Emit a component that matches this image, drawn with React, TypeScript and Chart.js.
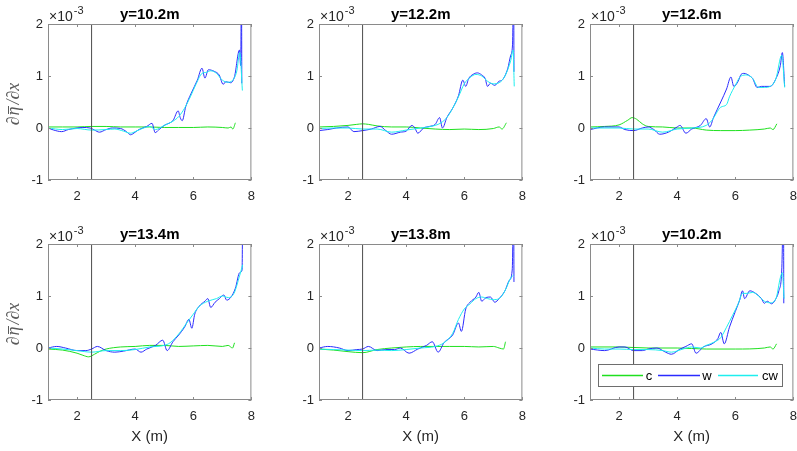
import { useEffect, useRef } from "react";
import { Chart, registerables } from "chart.js";

Chart.register(...registerables);

type Pt = [number, number];

// ---------- data (values in units of 1e-3) ----------
const titles = ["y=10.2m", "y=12.2m", "y=12.6m", "y=13.4m", "y=13.8m", "y=10.2m"];
const xTicks = [2, 4, 6, 8];
const yTicks = [-1, 0, 1, 2];
const xRange = [1, 8];
const yRange = [-1, 2];
const vLineX = 2.5;
const seriesNames = ["c", "w", "cw"];
const xLabel = "X (m)";
// y label pieces: "∂" + "η" (with overbar) + "/∂x"
const yLabelParts = ["\u2202", "\u03B7", "/\u2202x"];
const exponentBase = "\u00D710";
const exponentPower = "-3";

const p1C: Pt[] = [[1, 0.02], [1.5, 0.02], [2, 0.02], [2.5, 0.03], [3, 0.03], [3.5, 0.02], [4, 0.02], [4.5, 0.02], [5, 0.01], [5.5, 0.01], [6, 0.01], [6.5, 0.02], [7, 0.01], [7.2, 0.0], [7.3, 0.02], [7.36, -0.02], [7.45, 0.1]];
const p1W: Pt[] = [[1, 0.0], [1.2, -0.04], [1.47, -0.07], [1.7, -0.03], [2.0, 0.0], [2.2, 0.01], [2.45, 0.0], [2.6, -0.04], [2.77, -0.08], [3.0, -0.03], [3.22, 0.0], [3.5, -0.01], [3.7, -0.07], [3.84, -0.13], [4.0, -0.08], [4.13, -0.03], [4.4, 0.03], [4.58, 0.09], [4.69, -0.09], [4.8, -0.04], [5.03, 0.06], [5.2, 0.1], [5.31, 0.15], [5.48, 0.33], [5.55, 0.2], [5.62, 0.14], [5.74, 0.41], [5.93, 0.67], [6.14, 0.92], [6.3, 1.15], [6.4, 0.96], [6.52, 1.12], [6.72, 1.09], [6.89, 1.02], [7.03, 0.84], [7.12, 0.89], [7.29, 0.87], [7.42, 0.99], [7.59, 1.5], [7.63, 1.2], [7.66, 2.8], [7.67, 0.86]];
const p1CW: Pt[] = [[1, 0.0], [1.5, -0.03], [2, -0.01], [2.5, -0.04], [3, -0.03], [3.3, -0.02], [3.6, -0.06], [3.84, -0.1], [4.0, -0.07], [4.2, -0.02], [4.5, 0.03], [4.7, -0.03], [5.0, 0.05], [5.3, 0.13], [5.5, 0.22], [5.7, 0.38], [5.9, 0.6], [6.1, 0.85], [6.3, 1.05], [6.45, 1.07], [6.6, 1.1], [6.8, 1.05], [7.0, 0.92], [7.2, 0.88], [7.4, 0.95], [7.5, 1.1], [7.6, 1.45], [7.69, 0.72]];

const p2C: Pt[] = [[1, 0.02], [1.5, 0.03], [2, 0.05], [2.3, 0.07], [2.5, 0.08], [2.7, 0.07], [3, 0.04], [3.5, 0.02], [4, 0.02], [4.5, 0.0], [5, -0.02], [5.5, -0.03], [6, -0.02], [6.5, -0.03], [7, -0.01], [7.2, 0.02], [7.3, -0.02], [7.45, 0.1]];
const p2W: Pt[] = [[1, -0.05], [1.3, -0.03], [1.6, 0.0], [2.0, 0.02], [2.2, -0.07], [2.5, -0.05], [2.8, -0.02], [3.1, 0.03], [3.3, -0.05], [3.5, -0.12], [3.8, -0.08], [4.0, -0.06], [4.2, 0.05], [4.3, 0.0], [4.4, -0.1], [4.6, 0.0], [4.8, 0.03], [5.0, 0.07], [5.15, 0.2], [5.25, 0.0], [5.4, 0.2], [5.6, 0.38], [5.8, 0.62], [5.95, 0.92], [6.05, 0.8], [6.15, 0.95], [6.3, 1.03], [6.45, 1.06], [6.6, 1.02], [6.72, 0.95], [6.8, 0.8], [6.9, 0.86], [7.05, 0.82], [7.2, 0.9], [7.3, 0.92], [7.5, 1.15], [7.6, 1.4], [7.66, 1.6], [7.7, 2.8], [7.71, 1.08]];
const p2CW: Pt[] = [[1, -0.01], [1.5, 0.0], [2, 0.0], [2.5, -0.02], [3, -0.02], [3.5, -0.08], [4, -0.04], [4.5, 0.0], [5, 0.05], [5.2, 0.1], [5.4, 0.2], [5.6, 0.38], [5.8, 0.6], [6.0, 0.85], [6.2, 0.97], [6.4, 1.03], [6.6, 1.0], [6.8, 0.9], [7.0, 0.85], [7.2, 0.87], [7.4, 1.0], [7.6, 1.3], [7.68, 1.5], [7.72, 0.8]];

const p3C: Pt[] = [[1, 0.02], [1.5, 0.03], [2, 0.06], [2.3, 0.15], [2.45, 0.2], [2.6, 0.17], [2.8, 0.08], [3, 0.03], [3.5, 0.02], [4, 0.0], [4.5, 0.0], [5, -0.04], [5.5, -0.05], [6, -0.05], [6.5, -0.04], [7, -0.02], [7.2, 0.0], [7.3, -0.03], [7.43, 0.08]];
const p3W: Pt[] = [[1, -0.03], [1.5, 0.02], [2, 0.02], [2.2, -0.03], [2.5, -0.05], [2.8, 0.0], [3, 0.02], [3.2, -0.03], [3.4, -0.12], [3.7, -0.08], [4, 0.02], [4.1, 0.05], [4.3, -0.1], [4.5, -0.02], [4.8, 0.05], [5.0, 0.18], [5.12, 0.02], [5.25, 0.2], [5.5, 0.5], [5.7, 0.75], [5.85, 0.98], [5.95, 0.8], [6.1, 0.9], [6.2, 1.03], [6.3, 1.05], [6.5, 1.0], [6.6, 0.95], [6.75, 0.78], [6.9, 0.8], [7.0, 0.8], [7.2, 0.8], [7.4, 0.95], [7.55, 1.2], [7.62, 1.45], [7.7, 0.8]];
const p3CW: Pt[] = [[1, 0.0], [2, 0.0], [2.5, -0.02], [3, -0.02], [3.5, -0.08], [4, -0.02], [4.5, 0.0], [5, 0.05], [5.2, 0.15], [5.5, 0.4], [5.7, 0.45], [5.8, 0.6], [6.0, 0.82], [6.2, 1.0], [6.4, 1.02], [6.6, 0.95], [6.8, 0.78], [7.0, 0.78], [7.2, 0.8], [7.4, 0.95], [7.6, 1.4], [7.7, 0.78]];

const p4C: Pt[] = [[1, -0.02], [1.5, -0.04], [2, -0.1], [2.2, -0.14], [2.4, -0.17], [2.6, -0.12], [2.8, -0.06], [3, -0.02], [3.5, 0.02], [4, 0.03], [4.5, 0.05], [5, 0.05], [5.5, 0.03], [6, 0.04], [6.5, 0.05], [7, 0.03], [7.2, 0.05], [7.35, 0.0], [7.42, 0.1]];
const p4W: Pt[] = [[1, 0.0], [1.3, 0.03], [1.6, 0.0], [2.0, -0.05], [2.3, -0.05], [2.5, -0.02], [2.7, 0.03], [3.0, -0.05], [3.3, -0.08], [3.6, -0.06], [4.0, -0.02], [4.2, -0.08], [4.4, -0.02], [4.7, 0.05], [4.95, 0.15], [5.1, -0.05], [5.3, 0.12], [5.5, 0.25], [5.7, 0.4], [5.85, 0.55], [5.95, 0.38], [6.05, 0.65], [6.2, 0.8], [6.4, 0.9], [6.5, 0.95], [6.6, 0.78], [6.75, 0.88], [6.9, 0.95], [7.05, 1.02], [7.15, 0.92], [7.3, 0.98], [7.45, 1.15], [7.6, 1.45], [7.68, 1.5], [7.7, 2.8]];
const p4CW: Pt[] = [[1, 0.0], [1.5, -0.02], [2, -0.05], [2.5, -0.08], [3, -0.05], [3.5, -0.05], [4, -0.03], [4.5, 0.02], [5, 0.05], [5.2, 0.1], [5.5, 0.27], [5.8, 0.5], [6, 0.65], [6.2, 0.8], [6.5, 0.9], [6.8, 0.95], [7, 1.0], [7.2, 0.97], [7.4, 1.05], [7.6, 1.4], [7.7, 1.6]];

const p5C: Pt[] = [[1, -0.02], [1.5, -0.04], [2, -0.07], [2.5, -0.09], [3, -0.03], [3.5, 0.0], [4, 0.02], [4.5, 0.03], [5, 0.03], [5.5, 0.03], [6, 0.03], [6.5, 0.02], [7, 0.03], [7.2, 0.0], [7.35, -0.02], [7.42, 0.12]];
const p5W: Pt[] = [[1, 0.0], [1.3, 0.03], [1.7, 0.0], [2.0, -0.05], [2.3, -0.03], [2.5, -0.02], [2.7, 0.03], [3.0, -0.05], [3.3, -0.03], [3.6, -0.03], [3.8, 0.0], [4.1, -0.1], [4.4, -0.02], [4.7, 0.05], [4.9, 0.12], [5.1, -0.08], [5.3, 0.1], [5.6, 0.25], [5.8, 0.48], [5.9, 0.32], [6.05, 0.75], [6.2, 0.88], [6.4, 0.98], [6.5, 1.07], [6.6, 0.9], [6.75, 0.97], [6.9, 0.98], [7.05, 0.88], [7.2, 0.95], [7.4, 1.1], [7.55, 1.3], [7.65, 1.5], [7.7, 2.8], [7.71, 1.27]];
const p5CW: Pt[] = [[1, -0.02], [1.5, -0.03], [2, -0.04], [2.5, -0.05], [3, -0.04], [3.5, -0.05], [4, -0.03], [4.5, 0.0], [5, 0.03], [5.3, 0.1], [5.6, 0.28], [5.8, 0.55], [6, 0.75], [6.2, 0.85], [6.4, 0.95], [6.6, 0.98], [6.8, 0.95], [7, 0.93], [7.2, 0.95], [7.4, 1.1], [7.6, 1.35], [7.7, 1.4]];

const p6C: Pt[] = [[1, 0.02], [2, 0.02], [3, 0.0], [4, 0.0], [5, -0.02], [6, -0.02], [7, 0.0], [7.2, 0.02], [7.3, -0.02], [7.42, 0.08]];
const p6W: Pt[] = [[1, -0.02], [1.5, -0.05], [2, 0.02], [2.2, 0.02], [2.5, -0.05], [2.8, -0.05], [3, -0.02], [3.3, 0.0], [3.6, -0.08], [3.8, -0.12], [4.1, -0.02], [4.3, 0.03], [4.5, 0.08], [4.65, -0.1], [4.9, 0.02], [5.2, 0.08], [5.4, 0.18], [5.5, 0.3], [5.62, 0.08], [5.8, 0.4], [6.0, 0.7], [6.15, 0.92], [6.25, 1.1], [6.32, 0.95], [6.5, 1.1], [6.7, 1.05], [6.9, 0.95], [7.0, 0.86], [7.1, 0.9], [7.25, 0.85], [7.4, 0.95], [7.5, 1.1], [7.6, 1.5], [7.66, 2.8], [7.67, 0.86]];
const p6CW: Pt[] = [[1, 0.0], [1.5, -0.02], [2, -0.02], [2.5, -0.03], [3, -0.03], [3.5, -0.05], [3.8, -0.08], [4.2, -0.02], [4.5, 0.02], [4.8, 0.0], [5, 0.05], [5.3, 0.12], [5.5, 0.2], [5.7, 0.4], [5.9, 0.62], [6.1, 0.85], [6.25, 1.05], [6.4, 1.05], [6.6, 1.07], [6.8, 1.0], [7, 0.9], [7.2, 0.87], [7.4, 0.95], [7.55, 1.35], [7.62, 1.45], [7.68, 0.95]];

const panelSeries: Pt[][][] = [
  [p1C, p1W, p1CW],
  [p2C, p2W, p2CW],
  [p3C, p3W, p3CW],
  [p4C, p4W, p4CW],
  [p5C, p5W, p5CW],
  [p6C, p6W, p6CW],
];

// ---------- styles ----------
const seriesColors = ["#1fe01f", "#2b2bff", "#1eeeee"];
const SANS = "'Liberation Sans', Arial, Helvetica, sans-serif";
const SERIF = "'Liberation Serif', 'DejaVu Serif', serif";
const TEXT = "#262626";
const BOX = "#8a8a8a";
const VLINE = "#4d4d4d";

const PLOT_W = 206;
const PLOT_H = 156;
const LEFT_M = 48;
const TOP_M = 24;
const RIGHT_M = 10;
const BOTTOM_M = 48;
const colLefts = [48, 319, 590];
const rowTops = [24, 244];

function Panel({ idx }: { idx: number }) {
  const ref = useRef<HTMLCanvasElement | null>(null);
  const col = idx % 3;
  const row = Math.floor(idx / 3);
  const cw = LEFT_M + PLOT_W + RIGHT_M;
  const ch = TOP_M + PLOT_H + BOTTOM_M;
  const left = colLefts[col] - LEFT_M;
  const top = rowTops[row] - TOP_M;

  useEffect(() => {
    if (!ref.current) return;
    const series = panelSeries[idx];
    const datasets: any[] = series.map((pts, i) => ({
      label: seriesNames[i],
      data: pts.map(([x, y]) => ({ x, y })),
      borderColor: seriesColors[i],
      borderWidth: 1,
      pointRadius: 0,
      fill: false,
      cubicInterpolationMode: "monotone",
      order: 3 - i,
    }));
    datasets.push({
      label: "vline",
      data: [
        { x: vLineX, y: yRange[0] },
        { x: vLineX, y: yRange[1] },
      ],
      borderColor: VLINE,
      borderWidth: 1,
      pointRadius: 0,
      fill: false,
      order: 0,
    });

    const decor = {
      id: "decor" + idx,
      afterDraw(chart: any) {
        const { ctx, chartArea } = chart;
        const { left: l, top: t, right: r, bottom: b } = chartArea;
        const xs = chart.scales.x;
        const ys = chart.scales.y;
        ctx.save();
        // box
        ctx.strokeStyle = BOX;
        ctx.lineWidth = 1;
        ctx.strokeRect(l + 0.5, t + 0.5, r - l - 1, b - t - 1);
        // inward ticks
        ctx.beginPath();
        xTicks.forEach((v) => {
          const px = Math.round(xs.getPixelForValue(v)) + 0.5;
          ctx.moveTo(px, b);
          ctx.lineTo(px, b - 3);
          ctx.moveTo(px, t);
          ctx.lineTo(px, t + 3);
        });
        yTicks.forEach((v) => {
          const py = Math.round(ys.getPixelForValue(v)) + 0.5;
          ctx.moveTo(l, py);
          ctx.lineTo(l + 3, py);
          ctx.moveTo(r, py);
          ctx.lineTo(r - 3, py);
        });
        ctx.stroke();
        // title
        ctx.fillStyle = "#000";
        ctx.font = `bold 15px ${SANS}`;
        ctx.textAlign = "center";
        ctx.textBaseline = "middle";
        ctx.fillText(titles[idx], (l + r) / 2, t - 9);
        // exponent
        ctx.fillStyle = TEXT;
        ctx.textAlign = "left";
        ctx.textBaseline = "alphabetic";
        ctx.font = `14px ${SANS}`;
        ctx.fillText(exponentBase, l + 1, t - 3);
        const bw = ctx.measureText(exponentBase).width;
        ctx.font = `11px ${SANS}`;
        ctx.fillText(exponentPower, l + 1 + bw + 1, t - 10);
        // y label
        if (col === 0) {
          ctx.save();
          ctx.translate(19, (t + b) / 2 + 2);
          ctx.rotate(-Math.PI / 2);
          ctx.font = `italic 18px ${SERIF}`;
          ctx.fillStyle = "#5a5a5a";
          ctx.strokeStyle = "#5a5a5a";
          ctx.textAlign = "left";
          ctx.textBaseline = "alphabetic";
          const widths = yLabelParts.map((s) => ctx.measureText(s).width);
          const total = widths[0] + widths[1] + widths[2] + 3;
          let x = -total / 2;
          ctx.fillText(yLabelParts[0], x, 0);
          x += widths[0] + 1;
          ctx.fillText(yLabelParts[1], x, 0);
          ctx.lineWidth = 1;
          ctx.beginPath();
          ctx.moveTo(x + 1.5, -10.5);
          ctx.lineTo(x + widths[1] + 0.5, -10.5);
          ctx.stroke();
          x += widths[1] + 2;
          ctx.fillText(yLabelParts[2], x, 0);
          ctx.restore();
        }
        // legend
        if (idx === 5) {
          const bx = l + 8;
          const by = t + 120;
          const bwid = 184;
          const bh = 22;
          ctx.fillStyle = "#fff";
          ctx.fillRect(bx, by, bwid, bh);
          ctx.strokeStyle = "#6e6e6e";
          ctx.lineWidth = 1;
          ctx.strokeRect(bx + 0.5, by + 0.5, bwid, bh);
          const segs = [
            [4, 45, 51],
            [60, 102, 109],
            [120, 160, 172],
          ];
          segs.forEach(([x0, x1, tx], i) => {
            ctx.strokeStyle = seriesColors[i];
            ctx.lineWidth = 1.3;
            ctx.beginPath();
            ctx.moveTo(bx + x0, by + 11.5);
            ctx.lineTo(bx + x1, by + 11.5);
            ctx.stroke();
            ctx.fillStyle = "#000";
            ctx.font = `13px ${SANS}`;
            ctx.textAlign = "center";
            ctx.textBaseline = "middle";
            ctx.fillText(seriesNames[i], bx + tx, by + 12.5);
          });
        }
        ctx.restore();
      },
    };

    const chart = new Chart(ref.current, {
      type: "line",
      data: { datasets },
      options: {
        animation: false,
        responsive: false,
        maintainAspectRatio: false,
        events: [],
        layout: { padding: { top: TOP_M, right: RIGHT_M, left: 0, bottom: 0 } },
        plugins: { legend: { display: false }, tooltip: { enabled: false }, title: { display: false } },
        scales: {
          x: {
            type: "linear",
            min: xRange[0],
            max: xRange[1],
            afterBuildTicks: (s: any) => {
              s.ticks = xTicks.map((v) => ({ value: v }));
            },
            grid: { display: false, drawTicks: false },
            border: { display: false },
            ticks: {
              padding: 9,
              color: TEXT,
              font: { family: SANS, size: 13 },
              maxRotation: 0,
              autoSkip: false,
            },
            title: {
              display: row === 1,
              text: xLabel,
              color: TEXT,
              font: { family: SANS, size: 15 },
              padding: { top: 0, bottom: 2 },
            },
            afterFit: (s: any) => {
              s.height = BOTTOM_M;
            },
          },
          y: {
            type: "linear",
            min: yRange[0],
            max: yRange[1],
            afterBuildTicks: (s: any) => {
              s.ticks = yTicks.map((v) => ({ value: v }));
            },
            grid: { display: false, drawTicks: false },
            border: { display: false },
            ticks: {
              padding: 5,
              color: TEXT,
              font: { family: SANS, size: 13 },
              autoSkip: false,
            },
            afterFit: (s: any) => {
              s.width = LEFT_M;
            },
          },
        },
      } as any,
      plugins: [decor],
    });
    return () => chart.destroy();
  }, [idx]);

  return (
    <canvas
      ref={ref}
      width={cw}
      height={ch}
      style={{ position: "absolute", left, top, width: cw, height: ch }}
    />
  );
}

export default function App() {
  return (
    <div
      style={{
        position: "absolute",
        left: 0,
        top: 0,
        width: 797,
        height: 451,
        overflow: "hidden",
        background: "#fff",
      }}
    >
      {[0, 1, 2, 3, 4, 5].map((i) => (
        <Panel key={i} idx={i} />
      ))}
    </div>
  );
}
